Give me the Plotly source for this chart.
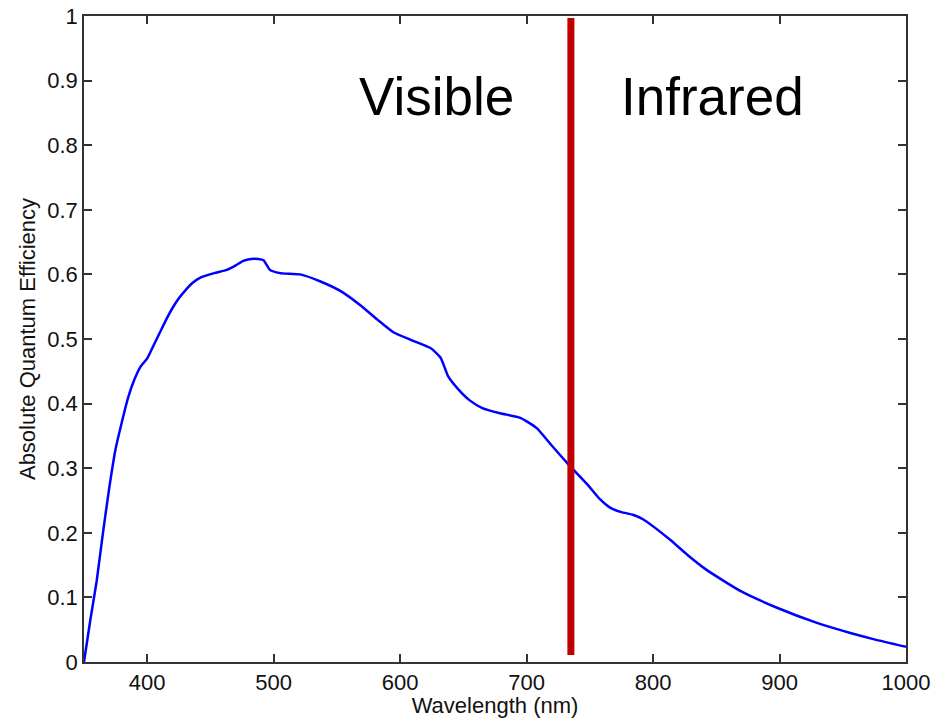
import plotly.graph_objects as go

wavelength_nm = [350, 355, 360, 365, 370, 375, 380, 385, 390, 395, 400, 405, 410, 415, 420, 425, 430, 436, 442, 453, 463, 470, 476, 482, 488, 492, 497, 505, 521, 537, 553, 568, 582, 595, 608, 624, 632, 638, 646, 655, 665, 679, 695, 708, 719, 733, 748, 758, 766, 775, 784, 792, 813, 827, 842, 869, 898, 929, 956, 975, 1000]
quantum_eff = [0.0, 0.065, 0.125, 0.2, 0.27, 0.33, 0.372, 0.41, 0.438, 0.458, 0.47, 0.49, 0.51, 0.53, 0.548, 0.563, 0.575, 0.587, 0.595, 0.602, 0.607, 0.614, 0.621, 0.624, 0.624, 0.622, 0.607, 0.602, 0.600, 0.589, 0.574, 0.553, 0.530, 0.510, 0.499, 0.486, 0.471, 0.442, 0.422, 0.405, 0.393, 0.385, 0.378, 0.362, 0.337, 0.306, 0.275, 0.252, 0.239, 0.232, 0.228, 0.221, 0.190, 0.166, 0.143, 0.110, 0.084, 0.061, 0.045, 0.035, 0.0235]

boundary_nm = 735
boundary_y = [0.011, 0.997]

x_ticks = [400, 500, 600, 700, 800, 900, 1000]
y_ticks = [0, 0.1, 0.2, 0.3, 0.4, 0.5, 0.6, 0.7, 0.8, 0.9, 1]
y_tick_labels = ["0", "0.1", "0.2", "0.3", "0.4", "0.5", "0.6", "0.7", "0.8", "0.9", "1"]

region_labels = ["Visible", "Infrared"]
region_label_x = [629, 847]
region_label_y = 0.875

FONT = "Liberation Sans, Arial, sans-serif"

fig = go.Figure()
fig.add_trace(go.Scatter(x=wavelength_nm, y=quantum_eff, mode="lines",
                         line=dict(color="#0000FF", width=2.5, shape="spline", smoothing=0.5),
                         hoverinfo="skip", showlegend=False))
fig.add_trace(go.Scatter(x=[boundary_nm, boundary_nm], y=boundary_y, mode="lines",
                         line=dict(color="#C00000", width=7),
                         hoverinfo="skip", showlegend=False))

for txt, xv in zip(region_labels, region_label_x):
    fig.add_annotation(x=xv, y=region_label_y, text=txt, showarrow=False,
                       xanchor="center", yanchor="middle",
                       font=dict(family=FONT, size=53, color="black"))

axis_common = dict(showline=True, linecolor="#333333", linewidth=1.5, mirror="ticks",
                   ticks="inside", ticklen=8, tickwidth=1.5, tickcolor="#333333",
                   showgrid=False, zeroline=False, automargin=True,
                   ticklabeloverflow="allow",
                   tickfont=dict(family=FONT, size=22, color="#111111"))

fig.update_xaxes(range=[350, 1000], tickvals=x_ticks,
                 title=dict(text="Wavelength (nm)", font=dict(family=FONT, size=22, color="#111111"), standoff=2),
                 **axis_common)
fig.update_yaxes(range=[0, 1], tickvals=y_ticks, ticktext=y_tick_labels,
                 title=dict(text="Absolute Quantum Efficiency", font=dict(family=FONT, size=22, color="#111111"), standoff=6),
                 **axis_common)

fig.update_layout(width=945, height=718, margin=dict(l=84, r=39, t=16, b=56, autoexpand=False),
                  plot_bgcolor="white", paper_bgcolor="white")

fig.write_html("out.html", config={"displayModeBar": False},
               post_script="document.body.style.margin='0';document.body.style.overflow='hidden';")
